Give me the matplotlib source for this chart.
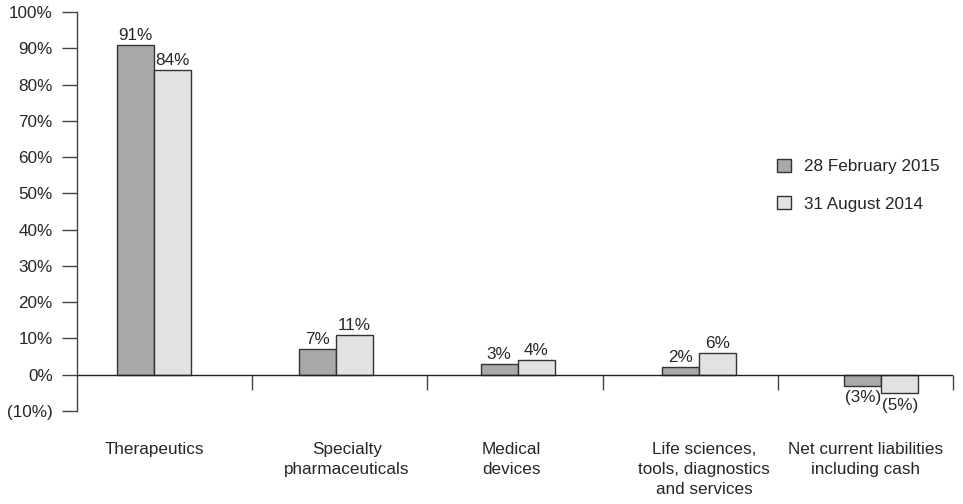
import numpy as np
import matplotlib
matplotlib.use("Agg")
import matplotlib.pyplot as plt
from matplotlib.patches import Patch
from matplotlib.transforms import blended_transform_factory

plt.rcParams['font.family'] = ['Liberation Sans', 'DejaVu Sans']

categories = ["Therapeutics",
              "Specialty\npharmaceuticals",
              "Medical\ndevices",
              "Life sciences,\ntools, diagnostics\nand services",
              "Net current liabilities\nincluding cash"]
feb_2015 = [91, 7, 3, 2, -3]
aug_2014 = [84, 11, 4, 6, -5]
series_names = ["28 February 2015", "31 August 2014"]
y_ticks = [-10, 0, 10, 20, 30, 40, 50, 60, 70, 80, 90, 100]

TEXT = "#262626"
LINE = "#444444"
DARK = "#a9a9ac"
LIGHT = "#e2e2e4"
FS = 12.3


def pct(v):
    return f"({abs(v)}%)" if v < 0 else f"{v}%"


fig = plt.figure(figsize=(9.63, 5.04), dpi=100)
ax = fig.add_axes([0.0800, 0.1845, 0.9096, 0.7917])

x = np.arange(len(categories))
w = 0.2035
xmin, xmax = -0.4235, 4.395
ax.set_xlim(xmin, xmax)
ax.set_ylim(-10, 100)

b1 = ax.bar(x - w / 2, feb_2015, w, color=DARK, edgecolor="#333333", linewidth=1, zorder=3)
b2 = ax.bar(x + w / 2, aug_2014, w, color=LIGHT, edgecolor="#333333", linewidth=1, zorder=3)

for bars, vals in ((b1, feb_2015), (b2, aug_2014)):
    for rect, v in zip(bars, vals):
        cx = rect.get_x() + rect.get_width() / 2
        if v >= 0:
            ax.annotate(pct(v), (cx, v), xytext=(0, 1.5), textcoords="offset points",
                        ha="center", va="bottom", fontsize=FS, color=TEXT)
        else:
            ax.annotate(pct(v), (cx, v), xytext=(0, -3.5), textcoords="offset points",
                        ha="center", va="top", fontsize=FS, color=TEXT)

# zero line and group separators
ax.axhline(0, color="#222222", linewidth=1, zorder=4)
seg = (xmax - xmin) / len(categories)
seps = xmin + seg * np.arange(1, len(categories) + 1)
ax.vlines(seps, -4.1, 0, color=LINE, linewidth=1, clip_on=False)

# spines / ticks
for s in ("top", "right", "bottom"):
    ax.spines[s].set_visible(False)
ax.spines["left"].set_color(LINE)
ax.spines["left"].set_linewidth(1)
ax.set_yticks(y_ticks)
ax.set_yticklabels([pct(v) for v in y_ticks])
ax.tick_params(axis="y", direction="out", length=11, width=1, color=LINE,
               pad=6.5, labelsize=FS, labelcolor=TEXT)
ax.set_xticks([])

# category labels
label_x = [0.0, 1.062, 1.964, 3.025, 3.916]
trans = blended_transform_factory(ax.transData, ax.transAxes)
for lx, lab in zip(label_x, categories):
    ax.text(lx, -0.078, lab, transform=trans, ha="center", va="top",
            fontsize=FS, color=TEXT, linespacing=1.4)

handles = [Patch(facecolor=DARK, edgecolor="#333333", linewidth=1),
           Patch(facecolor=LIGHT, edgecolor="#333333", linewidth=1)]
fig.legend(handles, series_names, loc="upper left", bbox_to_anchor=(0.807, 0.6855),
           frameon=False, fontsize=FS, labelcolor=TEXT, handlelength=0.82,
           handleheight=0.82, handletextpad=0.76, labelspacing=1.28, borderpad=0,
           borderaxespad=0)

fig.savefig("out.png", dpi=100)
